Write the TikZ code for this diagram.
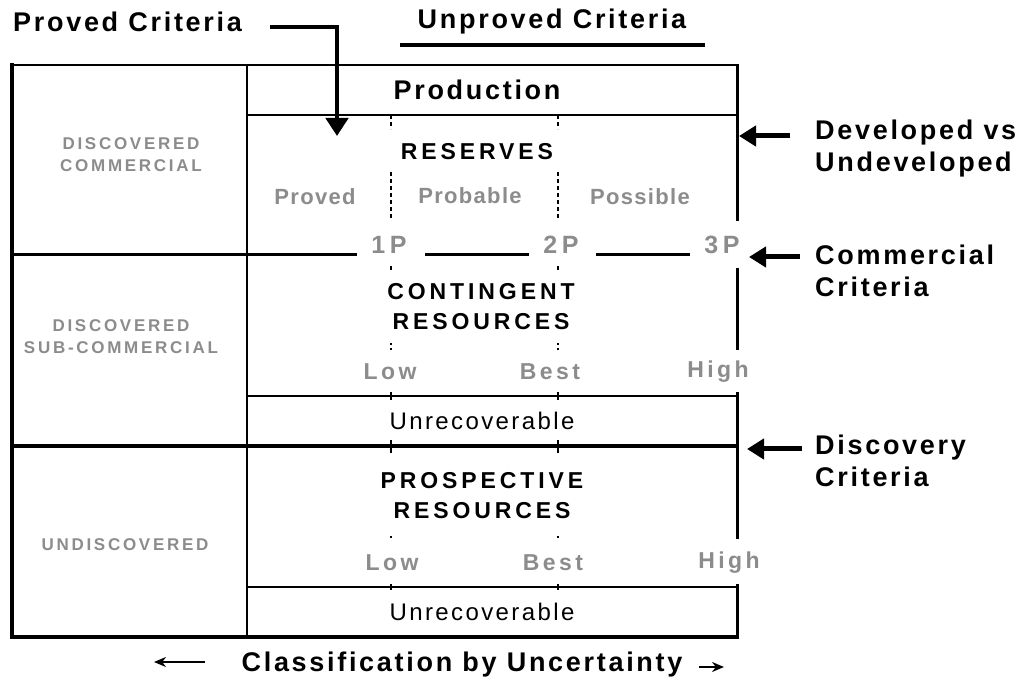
\documentclass[tikz,border=0pt]{standalone}
\usepackage{fontspec}
\setmainfont{Liberation Sans}
\usetikzlibrary{arrows.meta}
\definecolor{lbl}{RGB}{140,140,140}
\newcommand{\fsz}[2]{\fontsize{#1}{#2}\selectfont}
\tikzset{
  head/.style={font=\bfseries\fsz{27}{32}\addfontfeature{LetterSpace=10}, text=black, inner sep=0pt, align=left},
  cat/.style={font=\bfseries\fsz{23}{30}\addfontfeature{LetterSpace=17}, text=black, inner sep=0pt, align=center},
  gl/.style={font=\bfseries\fsz{22}{24}\addfontfeature{LetterSpace=6}, text=lbl, inner sep=0pt},
  glw/.style={font=\bfseries\fsz{23}{24}\addfontfeature{LetterSpace=15}, text=lbl, inner sep=0pt},
  pP/.style={font=\bfseries\fsz{25}{26}\addfontfeature{LetterSpace=18}, text=lbl, inner sep=0pt},
  side/.style={font=\bfseries\fsz{17}{22}\addfontfeature{LetterSpace=16}, text=lbl, inner sep=0pt, align=center},
  unrec/.style={font=\fsz{24}{26}\addfontfeature{LetterSpace=10}, text=black, inner sep=0pt},
  frame/.style={line width=3.5pt},
  thin/.style={line width=1.5pt},
  crit/.style={line width=3pt},
  dsh/.style={line width=1.2pt, dash pattern=on 4pt off 3pt},
  bigarrow/.style={line width=5pt, -{Triangle[length=17pt,width=20pt]}},
  smallarrow/.style={line width=2.2pt, -{Stealth[length=12pt,width=10pt]}}
}
\begin{document}
\begin{tikzpicture}[x=1pt,y=-1pt]
\useasboundingbox[fill=white] (0,0) rectangle (1026,684);
% frame
\draw[line width=2.5pt] (11,65) -- (737,65);
\draw[line width=4pt] (12,63) -- (12,639);
\draw[frame] (10,637) -- (739,637);
\draw[crit] (737,64) -- (737,221);
\draw[crit] (737,268) -- (737,350);
\draw[crit] (737,392) -- (737,539);
\draw[crit] (737,584) -- (737,638);
\draw[thin] (247,65) -- (247,637);
\draw[thin] (247,115) -- (737,115);
\draw[thin] (247,396) -- (737,396);
\draw[thin] (247,587) -- (737,587);
\draw[line width=4pt] (12,446) -- (737,446);
% commercial line
\draw[crit] (12,255) -- (357,255);
\draw[crit] (425,255) -- (529,255);
\draw[crit] (596,255) -- (690,255);
% dashed separators
\foreach \x in {391,558}{
  \draw[dsh] (\x,115) -- (\x,129);
  \draw[dsh] (\x,172) -- (\x,219);
  \draw[line width=1.2pt] (\x,266) -- (\x,270);
  \draw[line width=1.2pt] (\x,343) -- (\x,345) (\x,348) -- (\x,350);
  \draw[line width=1.2pt] (\x,392) -- (\x,400);
  \draw[line width=1.2pt] (\x,440) -- (\x,453);
  \draw[line width=1.2pt] (\x,536) -- (\x,538);
  \draw[line width=1.2pt] (\x,584) -- (\x,590);
}
% top labels
\node[head, anchor=west] (pc) at (13,22) {Proved Criteria};
\node[head] (uc) at (552,22) {Unproved Criteria};
\draw[line width=3.5pt] (400,45) -- (705,45);
\coordinate (pcs) at (270,27);
\coordinate (pct) at (337,136);
\draw[line width=4.5pt, -{Triangle[length=18pt,width=22pt]}] (pcs) -| (pct);
\node[head] (prod) at (477,90) {Production};
% reserves
\node[cat] (res) at (477,152) {RESERVES};
\node[gl] (proved) at (315,197) {Proved};
\node[gl] (probable) at (470,196) {Probable};
\node[gl] (possible) at (640,197) {Possible};
\node[pP] (p1) at (389,245) {1P};
\node[pP] (p2) at (561,245) {2P};
\node[pP] (p3) at (722,245) {3P};
% contingent
\node[cat] (cont) at (481,307) {CONTINGENT\\RESOURCES};
\node[glw] (low1) at (390,372) {Low};
\node[glw] (best1) at (550,372) {Best};
\node[glw] (high1) at (718,372) {High};
\node[unrec] (unr1) at (482,421) {Unrecoverable};
% prospective
\node[cat] (prosp) at (482,496) {PROSPECTIVE\\RESOURCES};
\node[glw] (low2) at (392,563) {Low};
\node[glw] (best2) at (553,563) {Best};
\node[glw] (high2) at (729,563) {High};
\node[unrec] (unr2) at (482,612) {Unrecoverable};
% side labels
\node[side] (dc) at (131,155) {DISCOVERED\\COMMERCIAL};
\node[side] (dsc) at (121,337) {DISCOVERED\\SUB-COMMERCIAL};
\node[side] (und) at (125,545) {UNDISCOVERED};
% right labels
\node[head, anchor=west] (dev) at (815,149) {Developed vs\\Undeveloped};
\node[head, anchor=west] (com) at (815,271) {Commercial\\Criteria};
\node[head, anchor=west] (disc) at (815,461) {Discovery\\Criteria};
\coordinate (deva) at (790,136);
\coordinate (devb) at (739,136);
\coordinate (coma) at (800,257);
\coordinate (comb) at (749,257);
\coordinate (disa) at (802,449);
\coordinate (disb) at (747,449);
\draw[bigarrow] (deva) -- (devb);
\draw[bigarrow] (coma) -- (comb);
\draw[bigarrow] (disa) -- (disb);
% bottom
\node[head] (cbu) at (462,665) {Classification by Uncertainty};
\coordinate (la) at (205,662);
\coordinate (lb) at (154,662);
\coordinate (ra) at (699,667);
\coordinate (rb) at (724,667);
\draw[smallarrow] (la) -- (lb);
\draw[smallarrow] (ra) -- (rb);
\end{tikzpicture}
\end{document}
